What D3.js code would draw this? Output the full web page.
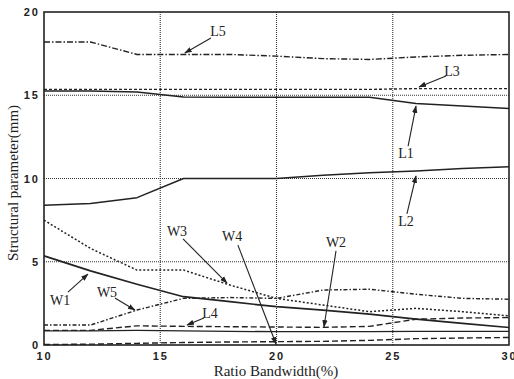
<!DOCTYPE html>
<html>
<head>
<meta charset="utf-8">
<script src="https://cdn.jsdelivr.net/npm/d3@7"></script>
<style>
  body { margin: 0; background: #fff; }
  svg { display: block; }
  .tick text { font-family: "Liberation Sans", Arial, sans-serif; font-size: 11px; font-weight: bold; letter-spacing: 2px; fill: #222; }
  .lbl { font-family: "Liberation Serif", "Times New Roman", serif; fill: #222; }
</style>
</head>
<body>
<svg id="chart" width="514" height="379"></svg>
<script>
// ratio bandwidth (%) sample points
var bandwidth = [10, 12, 14, 16, 18, 20, 22, 24, 26, 28, 30];

// structural parameters (mm)
var L1 = [15.25, 15.25, 15.2, 14.9, 14.88, 14.88, 14.88, 14.88, 14.5, 14.35, 14.2];
var L2 = [8.4, 8.5, 8.85, 10.0, 10.0, 10.0, 10.2, 10.35, 10.45, 10.6, 10.7];
var L3 = [15.35, 15.35, 15.35, 15.35, 15.35, 15.35, 15.35, 15.35, 15.4, 15.4, 15.4];
var L4 = [0.88, 0.88, 1.15, 1.12, 1.1, 1.08, 1.06, 1.12, 1.55, 1.62, 1.65];
var L5 = [18.2, 18.2, 17.45, 17.45, 17.45, 17.35, 17.2, 17.15, 17.3, 17.4, 17.45];
var W1 = [5.35, 4.45, 3.65, 2.9, 2.6, 2.3, 2.1, 1.85, 1.55, 1.3, 1.05];
var W2 = [0.85, 0.85, 0.88, 0.85, 0.82, 0.8, 0.8, 0.8, 0.82, 0.82, 0.82];
var W3 = [7.5, 5.8, 4.5, 4.5, 3.6, 2.8, 2.4, 2.0, 2.2, 2.0, 1.75];
var W4 = [0.03, 0.05, 0.1, 0.15, 0.18, 0.2, 0.22, 0.28, 0.38, 0.42, 0.45];
var W5 = [1.2, 1.2, 2.1, 2.8, 2.85, 2.8, 3.3, 3.35, 3.05, 2.8, 2.75];

var xTicks = [10, 15, 20, 25, 30];
var yTicks = [0, 5, 10, 15, 20];

// label: [text x, text y, arrow from x, from y, arrow tip x, tip y]  (data units)
var notes = [
	["L5", 17.48, 18.8, 17.18, 18.44, 16.06, 17.54],
	["L3", 27.55, 16.4, 27.29, 16.16, 26.13, 15.5],
	["L1", 25.57, 11.53, 25.66, 11.95, 26.0, 14.35],
	["L2", 25.57, 7.39, 25.61, 7.87, 26.0, 10.15],
	["W3", 15.72, 6.79, 15.98, 6.37, 17.87, 3.72],
	["W4", 18.09, 6.49, 18.34, 6.0, 19.98, 0.06],
	["W1", 10.69, 2.7, 11.03, 3.18, 11.89, 4.26],
	["W5", 12.71, 3.18, 13.05, 2.82, 13.91, 2.1],
	["L4", 17.14, 1.92, 16.88, 1.62, 16.15, 1.2],
	["W2", 22.56, 6.13, 22.56, 5.65, 22.04, 1.08]
];

var series = [
	{ name: "L5", values: L5, dash: "6,2,1.5,2", width: 1.4 },
	{ name: "L3", values: L3, dash: "3,2", width: 1.4 },
	{ name: "L1", values: L1, dash: null, width: 1.5 },
	{ name: "L2", values: L2, dash: null, width: 1.5 },
	{ name: "W3", values: W3, dash: "2,2", width: 1.5 },
	{ name: "W1", values: W1, dash: null, width: 1.7 },
	{ name: "W5", values: W5, dash: "4,2,1.5,2", width: 1.4 },
	{ name: "L4", values: L4, dash: "6,3", width: 1.4 },
	{ name: "W2", values: W2, dash: null, width: 1.3 },
	{ name: "W4", values: W4, dash: "6,3", width: 1.4 }
];

var svg = d3.select("#chart");
var ink = "#222";

var x = d3.scaleLinear().domain([10, 30]).range([44, 509]);
var y = d3.scaleLinear().domain([0, 20]).range([345, 12]);

// grid (dotted)
svg.append("g").selectAll("line.gx")
	.data(xTicks.slice(1, -1))
	.enter().append("line")
	.attr("x1", function(d) { return x(d); }).attr("x2", function(d) { return x(d); })
	.attr("y1", y(0)).attr("y2", y(20))
	.attr("stroke", "#333").attr("stroke-width", 1.1).attr("stroke-dasharray", "1,1");

svg.append("g").selectAll("line.gy")
	.data(yTicks.slice(1, -1))
	.enter().append("line")
	.attr("x1", x(10)).attr("x2", x(30))
	.attr("y1", function(d) { return y(d); }).attr("y2", function(d) { return y(d); })
	.attr("stroke", "#333").attr("stroke-width", 1.1).attr("stroke-dasharray", "1,1");

// axes (labels only, frame drawn separately)
var xAxis = svg.append("g")
	.attr("transform", "translate(0," + y(0) + ")")
	.call(d3.axisBottom(x).tickValues(xTicks).tickSize(0).tickPadding(7));
var yAxis = svg.append("g")
	.attr("transform", "translate(" + x(10) + ",0)")
	.call(d3.axisLeft(y).tickValues(yTicks).tickSize(0).tickPadding(4));
xAxis.select(".domain").remove();
yAxis.select(".domain").remove();

// series
var line = d3.line()
	.x(function(d, i) { return x(bandwidth[i]); })
	.y(function(d) { return y(d); })
	.curve(d3.curveLinear);

svg.append("g").selectAll("path.series")
	.data(series)
	.enter().append("path")
	.attr("class", "series")
	.attr("d", function(s) { return line(s.values); })
	.attr("fill", "none")
	.attr("stroke", ink)
	.attr("stroke-width", function(s) { return s.width; })
	.attr("stroke-linejoin", "round")
	.attr("stroke-dasharray", function(s) { return s.dash; });

// frame
svg.append("rect")
	.attr("x", x(10)).attr("y", y(20))
	.attr("width", x(30) - x(10)).attr("height", y(0) - y(20))
	.attr("fill", "none").attr("stroke", ink).attr("stroke-width", 1.6);

// annotation arrows
svg.append("defs").append("marker")
	.attr("id", "head")
	.attr("viewBox", "0 0 10 10")
	.attr("refX", 9).attr("refY", 5)
	.attr("markerWidth", 7).attr("markerHeight", 7)
	.attr("orient", "auto")
	.append("path").attr("d", "M0,1.5L10,5L0,8.5Z").attr("fill", ink);

var notesG = svg.append("g");
notesG.selectAll("line")
	.data(notes)
	.enter().append("line")
	.attr("x1", function(d) { return x(d[3]); }).attr("y1", function(d) { return y(d[4]); })
	.attr("x2", function(d) { return x(d[5]); }).attr("y2", function(d) { return y(d[6]); })
	.attr("stroke", ink).attr("stroke-width", 1.1)
	.attr("marker-end", "url(#head)");

notesG.selectAll("text")
	.data(notes)
	.enter().append("text")
	.attr("class", "lbl")
	.attr("x", function(d) { return x(d[1]); })
	.attr("y", function(d) { return y(d[2]); })
	.attr("text-anchor", "middle")
	.attr("dominant-baseline", "central")
	.attr("font-size", 14)
	.text(function(d) { return d[0]; });

// axis titles
svg.append("text")
	.attr("class", "lbl")
	.attr("x", 276).attr("y", 376)
	.attr("text-anchor", "middle")
	.attr("font-size", 15)
	.text("Ratio Bandwidth(%)");

svg.append("text")
	.attr("class", "lbl")
	.attr("transform", "translate(18,183) rotate(-90)")
	.attr("text-anchor", "middle")
	.attr("font-size", 15)
	.text("Structural parameter(mm)");
</script>
</body>
</html>
